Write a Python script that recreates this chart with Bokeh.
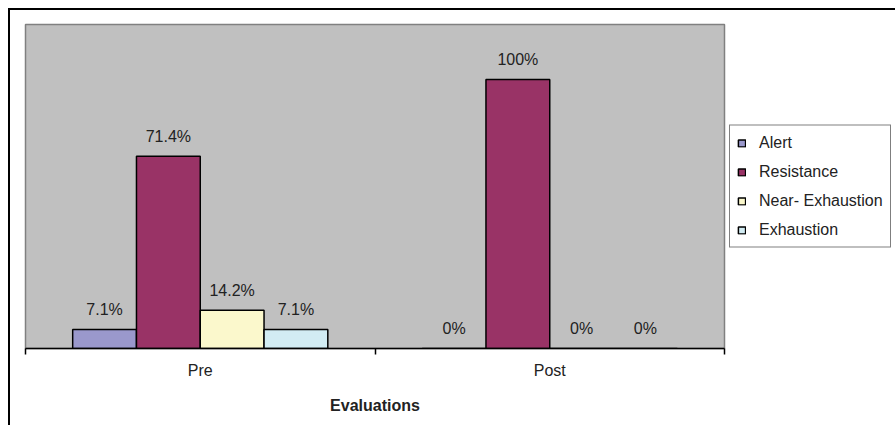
from bokeh.plotting import figure
from bokeh.models import Range1d, FixedTicker, ColumnDataSource, LabelSet
from bokeh.transform import dodge
from bokeh.core.properties import value
from bokeh.embed import file_html
from bokeh.resources import INLINE

categories = ["Pre", "Post"]
series = ["Alert", "Resistance", "Near- Exhaustion", "Exhaustion"]
alert = [7.1, 0]
resistance = [71.4, 100]
near_exhaustion = [14.2, 0]
exhaustion = [7.1, 0]
colors = ["#9A98CC", "#993366", "#FBF8CC", "#D2ECF3"]

FONT = "Liberation Sans"
TXT = "#222222"
FS = "16px"

p = figure(frame_width=699, frame_height=324, output_backend="svg", toolbar_location=None,
           x_range=Range1d(0, len(categories)), y_range=Range1d(0, 120.4),
           y_axis_location=None, min_border_left=15, min_border_top=14,
           min_border_bottom=77, min_border_right=0,
           styles={"border-top": "2px solid #000", "border-left": "2px solid #000",
                   "margin-top": "8px", "margin-left": "8px"})
p.background_fill_color = "#C0C0C0"
p.border_fill_color = "white"
p.outline_line_color = "#808080"
p.outline_line_width = 1.5
p.xgrid.grid_line_color = None
p.ygrid.grid_line_color = None

xs = [i + 0.5 for i in range(len(categories))]
data = {"x": xs, "cat": categories}
vals = [alert, resistance, near_exhaustion, exhaustion]
for name, v in zip(series, vals):
    data[name] = v
    data[name + "_lbl"] = [f"{a:g}%" for a in v]
src = ColumnDataSource(data)

w = 0.1825
offsets = [-1.5 * w, -0.5 * w, 0.5 * w, 1.5 * w]
for name, off, col in zip(series, offsets, colors):
    p.vbar(x=dodge("x", off), top=name, width=w, source=src, fill_color=col,
           line_color="black", line_width=1.5, legend_label=name)
    lbl = LabelSet(x=dodge("x", off), y=name, text=name + "_lbl", source=src,
                   text_align="center", text_baseline="middle", y_offset=20,
                   text_font=value(FONT), text_font_size=value(FS), text_color=value(TXT))
    p.add_layout(lbl)

ax = p.xaxis[0]
ax.ticker = FixedTicker(ticks=xs, minor_ticks=list(range(len(categories) + 1)))
ax.major_label_overrides = {x: c for x, c in zip(xs, categories)}
ax.major_tick_line_color = None
ax.major_tick_in = 0
ax.major_tick_out = 0
ax.minor_tick_in = 0
ax.minor_tick_out = 6
ax.minor_tick_line_color = "black"
ax.minor_tick_line_width = 1.5
ax.axis_line_color = "black"
ax.axis_line_width = 1.5
ax.major_label_standoff = 7
ax.major_label_text_font = FONT
ax.major_label_text_font_size = FS
ax.major_label_text_color = TXT
ax.axis_label = "Evaluations"
ax.axis_label_text_font = FONT
ax.axis_label_text_font_size = FS
ax.axis_label_text_font_style = "bold"
ax.axis_label_text_color = TXT
ax.axis_label_standoff = 15

lg = p.legend[0]
p.center.remove(lg)
p.add_layout(lg, "right")
lg.location = "left"
lg.border_line_color = "black"
lg.border_line_width = 1
lg.background_fill_color = "white"
lg.background_fill_alpha = 1
lg.padding = 7
lg.margin = 5
lg.spacing = 9
lg.label_height = 20
lg.glyph_height = 9
lg.glyph_width = 9
lg.label_standoff = 13
lg.label_text_font = FONT
lg.label_text_font_size = FS
lg.label_text_color = TXT

open("out.html", "w").write(file_html(p, INLINE))
